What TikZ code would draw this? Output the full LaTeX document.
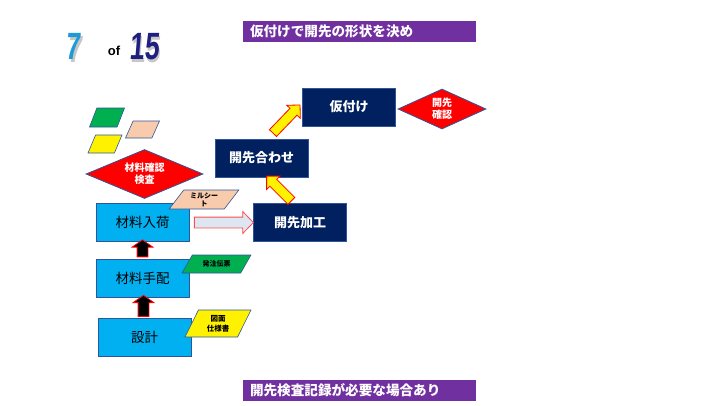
\documentclass[tikz,border=0pt]{standalone}
\usepackage{fontspec}
\newfontfamily\jpfont{Noto Sans CJK JP}
\newfontfamily\numfont{Liberation Sans}
\usetikzlibrary{shapes.geometric, shapes.arrows, calc}
\definecolor{my_navy}{HTML}{002060}
\definecolor{my_cyan}{HTML}{00B0F0}
\definecolor{my_border}{HTML}{2F5597}
\definecolor{my_purple}{HTML}{7030A0}
\definecolor{my_peach}{HTML}{F8CBAD}
\definecolor{my_green}{HTML}{00B050}
\definecolor{my_paleblue}{HTML}{DEE6F2}
\definecolor{my_numblue}{HTML}{1E9BD7}
\definecolor{my_numnavy}{HTML}{1F1F80}
\newcommand{\shadownum}[2]{\makebox[0pt][l]{\hspace{2.5pt}\raisebox{-2.5pt}{\color{black!22}#2}}{\color{#1}#2}}

\begin{document}
\begin{tikzpicture}[
    x=1pt, y=-1pt,
    lightbox/.style={rectangle, draw=my_border, fill=my_cyan, line width=0.8pt,
        minimum width=93pt, minimum height=38pt, inner sep=0pt,
        font=\jpfont\fontsize{13.5}{15}\selectfont},
    darkbox/.style={lightbox, fill=my_navy, text=white,
        font=\jpfont\bfseries\fontsize{13}{15}\selectfont},
    check/.style={diamond, draw=my_border, fill=red, text=white, inner sep=0pt,
        line width=0.8pt, align=center,
        font=\jpfont\bfseries\fontsize{10}{12}\selectfont},
    doc/.style={trapezium, trapezium stretches=true, draw=my_border,
        line width=0.6pt, inner sep=1pt, align=center,
        font=\jpfont\bfseries\fontsize{7}{8}\selectfont},
    banner/.style={rectangle, fill=my_purple, text=white, inner xsep=7pt,
        text width=219pt, minimum height=21pt, align=left,
        font=\jpfont\bfseries\fontsize{13.6}{15}\selectfont},
    blockarrow/.style={single arrow, inner xsep=0pt, single arrow head indent=0pt,
        line width=0.8pt},
    pagenum/.style={font=\numfont\bfseries\fontsize{38}{40}\selectfont,
        xscale=0.7, xslant=0.12, inner sep=0pt}
]
\useasboundingbox (0,0) rectangle (720,405);

% Page counter "7 of 15" with grey shadow
\node[pagenum] (page) at (74,48) {\shadownum{my_numblue}{7}};
\node[font=\numfont\bfseries\fontsize{13}{15}\selectfont] (of) at (114,51) {of};
\node[pagenum] (total) at (145,48) {\shadownum{my_numnavy}{15}};

% Banners
\node[banner] (title) at (359.5,31.5) {仮付けで開先の形状を決め};
\node[banner] (note) at (359.5,390) {開先検査記録が必要な場合あり};

% Legend parallelograms
\node[doc, fill=my_green, trapezium left angle=70, trapezium right angle=110,
    minimum width=35pt, minimum height=19pt] (legGreen) at (107,117.5) {};
\node[doc, fill=my_peach, trapezium left angle=68, trapezium right angle=112,
    minimum width=34pt, minimum height=17pt] (legPeach) at (142.5,129.5) {};
\node[doc, fill=yellow, trapezium left angle=68, trapezium right angle=112,
    minimum width=34pt, minimum height=18pt] (legYellow) at (105,144) {};

% Process boxes
\node[lightbox] (nyuka) at (142.5,222.5) {材料入荷};
\node[lightbox] (tehai) at (142.5,278) {材料手配};
\node[lightbox] (sekkei) at (144.5,337.5) {設計};
\node[darkbox] (kakou) at (300,222.5) {開先加工};
\node[darkbox] (awase) at (261.5,158) {開先合わせ};
\node[darkbox] (kari) at (349,107) {仮付け};

% Checks
\node[check, shape aspect=2.4, minimum width=117pt, minimum height=49pt]
    (kensa) at (144.5,174) {材料確認\\検査};
\node[check, shape aspect=2.3, minimum width=88pt, minimum height=40pt]
    (kakunin) at (442,109) {開先\\確認};

% Documents
\node[doc, fill=my_peach, trapezium left angle=56, trapezium right angle=124,
    minimum width=70pt, minimum height=19pt] (mill) at (204,199.5) {ミルシー\\ト};
\node[doc, fill=my_green, trapezium left angle=54, trapezium right angle=126,
    minimum width=69pt, minimum height=18pt] (denpyo) at (216.5,264) {発注伝票};
\node[doc, fill=yellow, trapezium left angle=66, trapezium right angle=114,
    font=\jpfont\bfseries\fontsize{7.5}{10}\selectfont,
    minimum width=66pt, minimum height=27pt] (zumen) at (218,323.5) {図面\\仕様書};

% Block arrows between the steps
\node[blockarrow, fill=black, draw=red, inner ysep=5pt, minimum height=17pt,
    single arrow head extend=5pt, single arrow tip angle=110, rotate=90]
    (up1) at ($(nyuka.south)!0.5!(tehai.north)$) {};
\node[blockarrow, fill=black, draw=red, inner ysep=5pt, minimum height=21pt,
    single arrow head extend=5pt, single arrow tip angle=110, rotate=90]
    (up2) at ($(tehai.south)!0.5!(sekkei.north)$) {};
\node[blockarrow, fill=my_paleblue, draw=red!70, inner ysep=5pt, minimum height=59pt,
    single arrow head extend=5.5pt, single arrow tip angle=92]
    (toKakou) at ($(nyuka.east)!0.5!(kakou.west)$) {};
\node[blockarrow, fill=yellow, draw=red, inner ysep=4.5pt, minimum height=35pt,
    single arrow head extend=4.5pt, single arrow tip angle=90, rotate=135]
    (toAwase) at ($(kakou.north)!0.5!(awase.south)$) {};
\node[blockarrow, fill=yellow, draw=red, inner ysep=4.5pt, minimum height=39pt,
    single arrow head extend=4.5pt, single arrow tip angle=90, rotate=46]
    (toKari) at ($(awase.north)!0.5!(kari.west) + (3,-2)$) {};

\end{tikzpicture}
\end{document}
